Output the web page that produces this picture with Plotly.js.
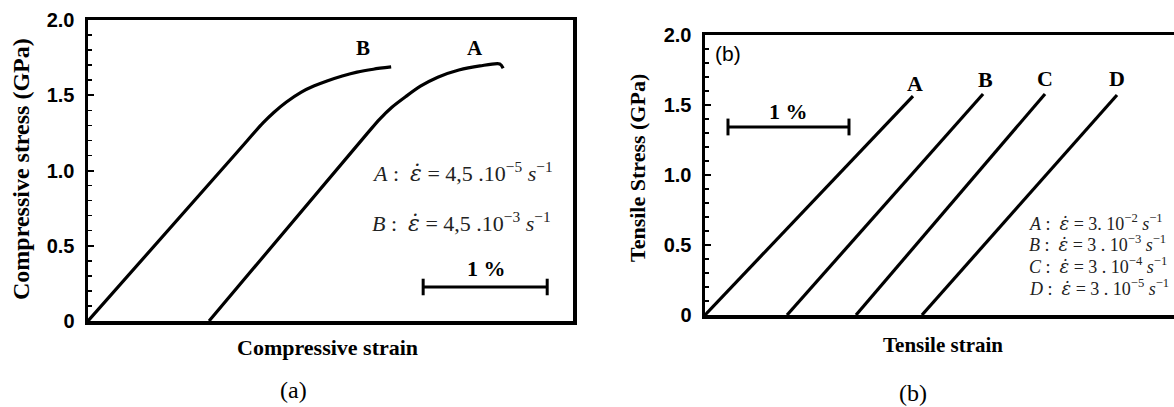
<!DOCTYPE html>
<html>
<head>
<meta charset="utf-8">
<script src="https://cdn.plot.ly/plotly-3.0.1.min.js"></script>
<style>
  html, body { margin: 0; padding: 0; background: #fff; }
  #chart { width: 1174px; height: 407px; }
</style>
</head>
<body>
<div id="chart"></div>
<script>
// ---------- DATA ----------
// Panel (a): compressive stress-strain curves (strain in %, stress in GPa)
const compStrainA = [0.976, 2.25, 2.35, 2.45, 2.56, 2.68, 2.82, 2.99, 3.16, 3.32, 3.347];
const compStressA = [0, 1.245, 1.34, 1.42, 1.49, 1.56, 1.62, 1.668, 1.695, 1.708, 1.68];
const compStrainB = [0, 1.2, 1.411, 1.50, 1.60, 1.72, 1.82, 1.927, 2.05, 2.169, 2.30, 2.444];
const compStressB = [0, 1.12, 1.316, 1.387, 1.455, 1.521, 1.561, 1.595, 1.628, 1.654, 1.673, 1.688];

// Panel (b): tensile stress-strain lines
const tensStrainA = [0.0, 1.719];
const tensStressA = [0, 1.564];
const tensStrainB = [0.678, 2.298];
const tensStressB = [0, 1.579];
const tensStrainC = [1.248, 2.810];
const tensStressC = [0, 1.579];
const tensStrainD = [1.793, 3.405];
const tensStressD = [0, 1.571];

// Tick labels
const stressTickVals = [0, 0.5, 1.0, 1.5, 2.0];
const stressTickText = ["0", "0.5", "1.0", "1.5", "2.0"];

// Legend-like texts
const EPS = '<span style="font-family:DejaVu Serif"><i>ε̇</i></span>';
const compRates = [
  "<i>A</i> :  " + EPS + " = 4,5 .10<sup>−5</sup> <i>s</i><sup>−1</sup>",
  "<i>B</i> :  " + EPS + " = 4,5 .10<sup>−3</sup> <i>s</i><sup>−1</sup>"
];
const tensRates = [
  "<i>A</i> :  " + EPS + " = 3. 10<sup>−2</sup> <i>s</i><sup>−1</sup>",
  "<i>B</i> :  " + EPS + " = 3 . 10<sup>−3</sup> <i>s</i><sup>−1</sup>",
  "<i>C</i> :  " + EPS + " = 3 . 10<sup>−4</sup> <i>s</i><sup>−1</sup>",
  "<i>D</i> :  " + EPS + " = 3 . 10<sup>−5</sup> <i>s</i><sup>−1</sup>"
];

// ---------- STYLE ----------
const W = 1174, H = 407;
const px = v => v / W;
const py = v => 1 - v / H;
const serifB = {family: "Liberation Serif, Times New Roman, serif", color: "#000", weight: 700};
const sansB = {family: "Liberation Sans, Arial, sans-serif", color: "#000", weight: 700, size: 20};
const mathF = {family: "Liberation Serif, DejaVu Serif, serif", color: "#222", size: 22};

const lineStyle = {color: "#000", width: 3.2};

const traces = [
  {x: compStrainB, y: compStressB, xaxis: "x", yaxis: "y", mode: "lines",
   line: Object.assign({shape: "spline", smoothing: 0.8}, lineStyle), name: "B"},
  {x: compStrainA, y: compStressA, xaxis: "x", yaxis: "y", mode: "lines",
   line: Object.assign({shape: "spline", smoothing: 0.8}, lineStyle), name: "A"},
  {x: tensStrainA, y: tensStressA, xaxis: "x2", yaxis: "y2", mode: "lines", line: lineStyle, name: "A"},
  {x: tensStrainB, y: tensStressB, xaxis: "x2", yaxis: "y2", mode: "lines", line: lineStyle, name: "B"},
  {x: tensStrainC, y: tensStressC, xaxis: "x2", yaxis: "y2", mode: "lines", line: lineStyle, name: "C"},
  {x: tensStrainD, y: tensStressD, xaxis: "x2", yaxis: "y2", mode: "lines", line: lineStyle, name: "D"}
];

function yAxis(domain, anchor, mirror) {
  return {
    domain: domain, anchor: anchor, range: [0, 2], fixedrange: true,
    showgrid: false, zeroline: false,
    showline: true, linecolor: "#000", linewidth: 3.5, mirror: mirror,
    tickmode: "array", tickvals: stressTickVals, ticktext: stressTickText,
    ticks: "inside", ticklen: 6, tickwidth: 2, tickcolor: "#000",
    ticklabelstandoff: 6,
    tickfont: sansB,
    minor: {tick0: 0, dtick: 0.1, ticks: "inside", ticklen: 4, tickwidth: 1.5, tickcolor: "#000"}
  };
}
function xAxis(domain, anchor, range) {
  return {
    domain: domain, anchor: anchor, range: range, fixedrange: true,
    showgrid: false, zeroline: false, showticklabels: false, ticks: "",
    showline: true, linecolor: "#000", linewidth: 3.5, mirror: true
  };
}

const annotations = [
  // panel (a) outer texts
  {xref: "paper", yref: "paper", x: px(21), y: py(169), text: "Compressive stress (GPa)", textangle: -90,
   showarrow: false, font: Object.assign({size: 24}, serifB), xanchor: "center", yanchor: "middle"},
  {xref: "paper", yref: "paper", x: px(327), y: py(347), text: "Compressive strain",
   showarrow: false, font: Object.assign({size: 22}, serifB), xanchor: "center", yanchor: "middle"},
  {xref: "paper", yref: "paper", x: px(293), y: py(390), text: "(a)",
   showarrow: false, font: {family: "Liberation Serif, serif", size: 24, color: "#000"}, xanchor: "center", yanchor: "middle"},
  // panel (a) inner texts
  {xref: "x", yref: "y", x: 2.218, y: 1.814, text: "B", showarrow: false, font: Object.assign({size: 21}, serifB)},
  {xref: "x", yref: "y", x: 3.121, y: 1.814, text: "A", showarrow: false, font: Object.assign({size: 21}, serifB)},
  {xref: "x", yref: "y", x: 2.27, y: 0.99, text: compRates[0], showarrow: false, xanchor: "left", font: mathF},
  {xref: "x", yref: "y", x: 2.27, y: 0.658, text: compRates[1], showarrow: false, xanchor: "left", font: mathF},
  {xref: "x", yref: "y", x: 3.21, y: 0.352, text: "1 %", showarrow: false, font: Object.assign({size: 22}, serifB)},
  // panel (b) outer texts
  {xref: "paper", yref: "paper", x: px(637), y: py(168), text: "Tensile Stress (GPa)", textangle: -90,
   showarrow: false, font: Object.assign({size: 22}, serifB), xanchor: "center", yanchor: "middle"},
  {xref: "paper", yref: "paper", x: px(943), y: py(345), text: "Tensile strain",
   showarrow: false, font: Object.assign({size: 21}, serifB), xanchor: "center", yanchor: "middle"},
  {xref: "paper", yref: "paper", x: px(913), y: py(393), text: "(b)",
   showarrow: false, font: {family: "Liberation Serif, serif", size: 24, color: "#000"}, xanchor: "center", yanchor: "middle"},
  // panel (b) inner texts
  {xref: "x2", yref: "y2", x: 0.066, y: 1.871, text: "(b)", showarrow: false, xanchor: "left",
   font: {family: "Liberation Sans, Arial, sans-serif", size: 21, color: "#000"}},
  {xref: "x2", yref: "y2", x: 0.694, y: 1.457, text: "1 %", showarrow: false, font: Object.assign({size: 22}, serifB)},
  {xref: "x2", yref: "y2", x: 1.736, y: 1.657, text: "A", showarrow: false, font: Object.assign({size: 22}, serifB)},
  {xref: "x2", yref: "y2", x: 2.314, y: 1.679, text: "B", showarrow: false, font: Object.assign({size: 22}, serifB)},
  {xref: "x2", yref: "y2", x: 2.810, y: 1.686, text: "C", showarrow: false, font: Object.assign({size: 22}, serifB)},
  {xref: "x2", yref: "y2", x: 3.405, y: 1.686, text: "D", showarrow: false, font: Object.assign({size: 22}, serifB)}
];
const tensRateY = [0.664, 0.514, 0.357, 0.193];
tensRates.forEach((t, i) => annotations.push({
  xref: "x2", yref: "y2", x: 2.66, y: tensRateY[i], text: t, showarrow: false, xanchor: "left",
  font: Object.assign({}, mathF, {size: 18})
}));

// scale bars (1 % of strain)
function scaleBar(xr, yr, x0, y0, cap) {
  const l = {color: "#000", width: 3};
  return [
    {type: "line", xref: xr, yref: yr, x0: x0, x1: x0 + 1, y0: y0, y1: y0, line: l},
    {type: "line", xref: xr, yref: yr, x0: x0, x1: x0, y0: y0 - cap, y1: y0 + cap, line: l},
    {type: "line", xref: xr, yref: yr, x0: x0 + 1, x1: x0 + 1, y0: y0 - cap, y1: y0 + cap, line: l}
  ];
}
const shapes = [].concat(scaleBar("x", "y", 2.702, 0.226, 0.055), scaleBar("x2", "y2", 0.19, 1.343, 0.06));

const layout = {
  width: W, height: H,
  margin: {l: 0, r: 0, t: 0, b: 0, pad: 0},
  paper_bgcolor: "#fff", plot_bgcolor: "#fff",
  showlegend: false,
  xaxis: xAxis([px(88), px(573)], "y", [0, 3.91]),
  yaxis: yAxis([1 - 321 / H, 1 - 20 / H], "x", true),
  xaxis2: xAxis([px(705), 1], "y2", [0, 3.876]),
  yaxis2: yAxis([1 - 315 / H, 1 - 35 / H], "x2", false),
  annotations: annotations,
  shapes: shapes
};

Plotly.newPlot("chart", traces, layout, {staticPlot: true, displayModeBar: false});
</script>
</body>
</html>
